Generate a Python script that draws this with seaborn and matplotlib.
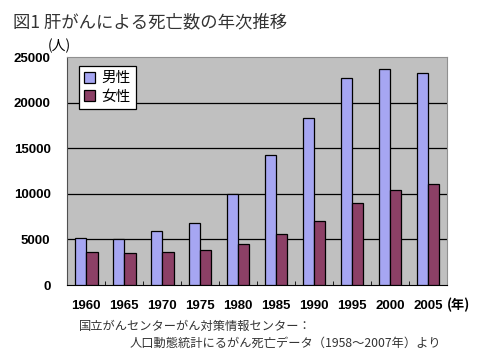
import pandas as pd
import seaborn as sns
import matplotlib.pyplot as plt

# data
years = ['1960', '1965', '1970', '1975', '1980', '1985', '1990', '1995', '2000', '2005']
male = [5120, 5010, 5950, 6760, 10010, 14220, 18310, 22700, 23650, 23210]
female = [3650, 3500, 3620, 3840, 4460, 5630, 6980, 8990, 10380, 11070]
series = ['男性', '女性']
colors = ['#9999FF', '#993366']

df = pd.DataFrame({
    'year': years * 2,
    'deaths': male + female,
    'sex': [series[0]] * len(years) + [series[1]] * len(years),
})

plt.rcParams['font.family'] = ['Noto Sans CJK JP', 'DejaVu Sans']

fig = plt.figure(figsize=(4.8, 3.59), dpi=100)
ax = fig.add_axes([0.14, 0.206, 0.791, 0.635])
ax.set_facecolor('#C0C0C0')

sns.barplot(data=df, x='year', y='deaths', hue='sex', palette=colors,
            width=0.6, edgecolor='black', linewidth=0.9, ax=ax, zorder=3)

ax.set_ylim(0, 25000)
ax.set_xlim(-0.5, len(years) - 0.5)
ax.set_yticks(range(0, 25001, 5000))
ax.set_yticklabels([str(v) for v in range(0, 25001, 5000)],
                   family='Liberation Sans', fontweight='bold', fontsize=9.5)
ax.set_xticks(range(len(years)))
ax.set_xticklabels(years, family='Liberation Sans', fontweight='bold', fontsize=9.5)
ax.tick_params(axis='x', length=0, pad=11)
ax.tick_params(axis='y', length=0, pad=12)
ax.set_xticks([i + 0.5 for i in range(len(years))], minor=True)
ax.tick_params(axis='x', which='minor', direction='in', length=3, color='black')
for v in range(5000, 25000, 5000):
    ax.axhline(v, color='black', linewidth=0.9, zorder=1)
ax.set_xlabel('')
ax.set_ylabel('')

for side in ['top', 'right']:
    ax.spines[side].set_color('#909090')
ax.spines['left'].set_color('#505050')
ax.spines['bottom'].set_color('black')

leg = ax.legend(loc='upper left', bbox_to_anchor=(0.03, 0.96), fancybox=False,
                edgecolor='black', framealpha=1, fontsize=10.5,
                handlelength=0.8, handleheight=0.8, handletextpad=0.4,
                borderpad=0.35, labelspacing=0.3, borderaxespad=0)
leg.get_frame().set_linewidth(0.9)

fig.text(0.028, 0.925, '図1 肝がんによる死亡数の年次推移', fontsize=12.5, color='#333333')
fig.text(0.1, 0.86, '(人)', fontsize=10)
fig.text(0.932, 0.138, '(年)', fontsize=9.5, fontweight='bold')
fig.text(0.165, 0.08, '国立がんセンターがん対策情報センター：', fontsize=8.8, color='#333333')
fig.text(0.27, 0.035, '人口動態統計にるがん死亡データ（1958〜2007年）より', fontsize=8.8, color='#333333')

plt.savefig('out.png', dpi=100)
